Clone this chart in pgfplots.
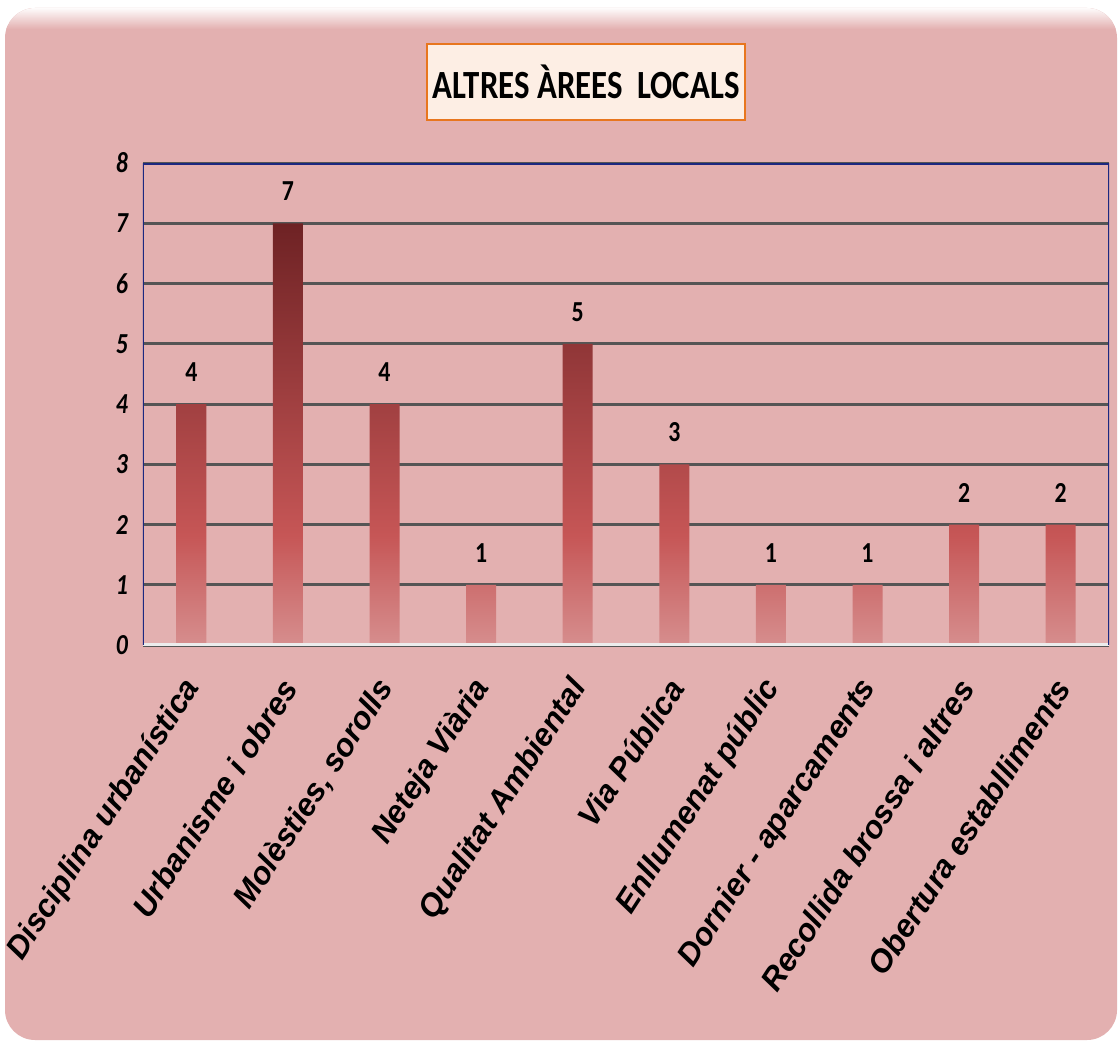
\documentclass[border=0pt]{standalone}
\usepackage{pgfplots}
\pgfplotsset{compat=1.18}
\usepackage{fontspec}
\setmainfont{Carlito}[FakeStretch=0.82]
\newfontfamily\arialfont{Liberation Sans}
\definecolor{bgpink}{RGB}{227,176,176}
\definecolor{titlefill}{RGB}{253,238,228}
\definecolor{titleborder}{RGB}{232,118,30}
\definecolor{framblue}{RGB}{28,40,128}
\definecolor{gridgray}{RGB}{85,85,85}
\definecolor{bartop}{RGB}{110,34,36}
\definecolor{barmid}{RGB}{198,86,86}
\definecolor{barbot}{RGB}{214,142,142}
\pgfdeclareverticalshading{barshade}{100bp}{color(0bp)=(barbot); color(25bp)=(barbot); color(38bp)=(barmid); color(75bp)=(bartop); color(100bp)=(bartop)}
\begin{document}
\begin{tikzpicture}
\useasboundingbox (0,0) rectangle (559.5pt,520.5pt);
\fill[white] (0,0) rectangle (559.5pt,520.5pt);
\fill[bgpink, rounded corners=15pt] (2.5pt,0.5pt) rectangle (558.5pt,516.5pt);
\begin{scope}
\clip[rounded corners=15pt] (2.5pt,0.5pt) rectangle (558.5pt,516.5pt);
\shade[top color=white, bottom color=bgpink] (0pt,506pt) rectangle (559.5pt,517pt);
\end{scope}
\node[draw=titleborder, line width=1.2pt, fill=titlefill, minimum width=159pt, minimum height=38pt, inner sep=0pt,
  font=\bfseries\fontsize{20}{20}\selectfont] at (293pt,479.5pt) {ALTRES ÀREES\ \ LOCALS};
\begin{axis}[
  scale only axis,
  width=483pt, height=241pt,
  at={(71.5pt,198pt)}, anchor=south west,
  xmin=-0.5, xmax=9.5, ymin=0, ymax=8,
  axis line style={draw=none},
  major tick length=0pt,
  ytick={0,1,...,8},
  yticklabels={0,1,2,3,4,5,6,7,8},
  yticklabel style={font=\bfseries\itshape\fontsize{14.5}{15}\selectfont, xshift=-4pt},
  xtick=data,
  xticklabels={Disciplina urbanística, Urbanisme i obres, Molèsties{,} sorolls, Neteja Viària, Qualitat Ambiental, Via Pública, Enllumenat públic, Dornier - aparcaments, Recollida brossa i altres, Obertura establliments},
  xticklabel style={font=\arialfont\bfseries\itshape\fontsize{15.8}{16}\selectfont, yshift=-16pt, xshift=3pt, rotate=57, anchor=east},
  ymajorgrids,
  grid style={gridgray, line width=1.5pt},
  /pgf/number format/assume math mode=true,
  nodes near coords,
  nodes near coords style={font=\bfseries\fontsize{14.5}{15}\selectfont, anchor=center, yshift=16pt},
]
\addplot[ybar, bar width=15pt, draw=none, shading=barshade]
  coordinates {(0,4) (1,7) (2,4) (3,1) (4,5) (5,3) (6,1) (7,1) (8,2) (9,2)};
\draw[white!85!gray, line width=2pt] (rel axis cs:0,0) -- (rel axis cs:1,0);
\draw[framblue, line width=1.5pt] (rel axis cs:0,0) -- (rel axis cs:0,1) -- (rel axis cs:1,1) -- (rel axis cs:1,0);
\end{axis}
\end{tikzpicture}
\end{document}
